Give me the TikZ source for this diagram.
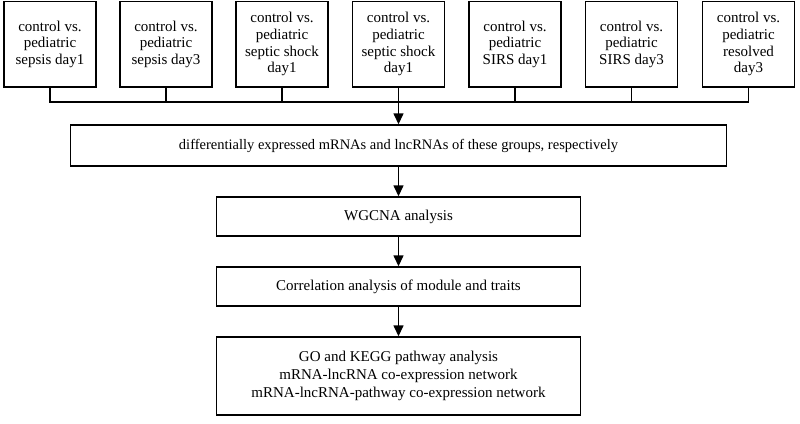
\documentclass[tikz,border=0pt]{standalone}
\usepackage{fontspec}
\setmainfont{Liberation Serif}
\usetikzlibrary{arrows.meta}
\begin{document}
\begin{tikzpicture}[x=1pt,y=-1pt,
  every node/.style={font=\fontsize{15}{16.7}\selectfont},
  topbox/.style={draw, line width=1.4pt, minimum width=92pt, minimum height=85.5pt, align=center, inner sep=0pt},
  midbox/.style={draw, line width=1.4pt, align=center, inner sep=0pt},
  conn/.style={line width=1.4pt},
  arr/.style={line width=1.4pt, -{Triangle[width=10pt,length=11pt]}}]
\useasboundingbox (0,0) rectangle (800,423);
\node[topbox] (t1) at (50,44.2) {control vs.\\pediatric\\sepsis day1};
\node[topbox] (t2) at (166,44.2) {control vs.\\pediatric\\sepsis day3};
\node[topbox] (t3) at (282,44.2) {control vs.\\pediatric\\septic shock\\day1};
\node[topbox] (t4) at (398.5,44.2) {control vs.\\pediatric\\septic shock\\day1};
\node[topbox] (t5) at (515,44.2) {control vs.\\pediatric\\SIRS day1};
\node[topbox] (t6) at (631.5,44.2) {control vs.\\pediatric\\SIRS day3};
\node[topbox] (t7) at (748.5,44.2) {control vs.\\pediatric\\resolved\\day3};
\coordinate (bus) at (0,102);
\node[midbox, minimum width=656pt, minimum height=41pt, font=\fontsize{14.5}{16.7}\selectfont] (diff) at (398.5,145.5)
  {differentially expressed mRNAs and lncRNAs of these groups, respectively};
\node[midbox, minimum width=364pt, minimum height=39pt] (wg) at (398.5,216.5) {WGCNA analysis};
\node[midbox, minimum width=364pt, minimum height=39pt] (cor) at (398.5,286.5) {Correlation analysis of module and traits};
\node[midbox, minimum width=364pt, minimum height=78pt, font=\fontsize{15}{18}\selectfont] (fin) at (398.5,376)
  {GO and KEGG pathway analysis\\mRNA-lncRNA co-expression network\\mRNA-lncRNA-pathway co-expression network};
\draw[conn] (t1.south) -- (t1.south |- bus) -- (t7.south |- bus) -- (t7.south);
\foreach \n in {t2,t3,t4,t5,t6} \draw[conn] (\n.south) -- (\n.south |- bus);
\draw[arr] (t4.south |- bus) -- (diff.north);
\draw[arr] (diff.south) -- (wg.north);
\draw[arr] (wg.south) -- (cor.north);
\draw[arr] (cor.south) -- (fin.north);
\end{tikzpicture}
\end{document}
